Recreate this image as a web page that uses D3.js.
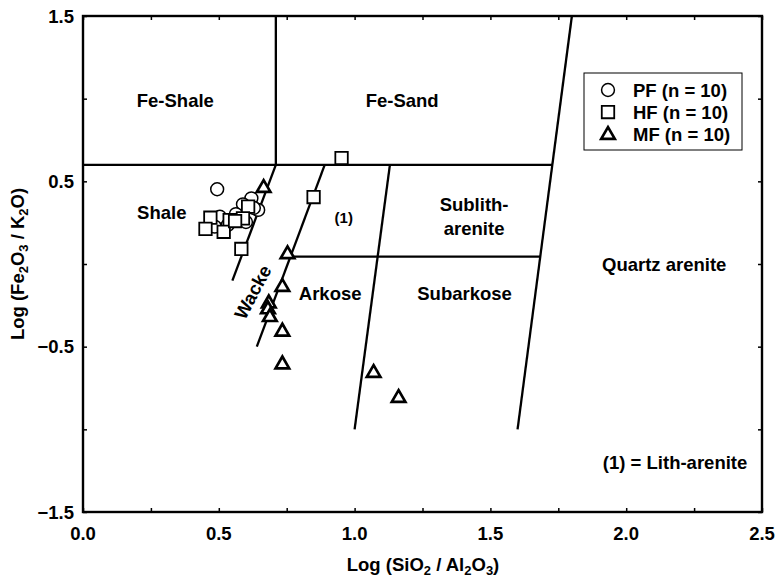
<!DOCTYPE html>
<html>
<head>
<meta charset="utf-8">
<script src="https://cdn.jsdelivr.net/npm/d3@7"></script>
<style>
  html, body { margin: 0; padding: 0; background: #fff; }
  svg { display: block; }
  text { font-family: "Liberation Sans", Arial, sans-serif; font-weight: bold; fill: #000; }
</style>
</head>
<body>
<svg id="chart" width="779" height="580"></svg>
<script>
// Sample groups: log(SiO2/Al2O3) and log(Fe2O3/K2O)
const pfX = [0.494, 0.620, 0.589, 0.645, 0.504, 0.485, 0.563, 0.600, 0.533, 0.629];
const pfY = [0.452, 0.397, 0.361, 0.327, 0.286, 0.226, 0.302, 0.254, 0.236, 0.339];

const hfX = [0.952, 0.849, 0.583, 0.608, 0.589, 0.540, 0.469, 0.451, 0.518, 0.560];
const hfY = [0.641, 0.405, 0.091, 0.347, 0.276, 0.266, 0.280, 0.212, 0.195, 0.260];

const mfX = [0.665, 0.753, 0.734, 0.684, 0.681, 0.688, 0.734, 0.734, 1.070, 1.162];
const mfY = [0.466, 0.065, -0.133, -0.232, -0.268, -0.315, -0.403, -0.601, -0.653, -0.804];

// Classification field boundaries (Herron 1988), as [x1, y1, x2, y2]
const boundaryX1 = [0.00, 0.71, 0.71, 0.89, 0.764, 1.13, 1.80];
const boundaryY1 = [0.60, 0.60, 0.60, 0.60, 0.045, 0.60, 1.50];
const boundaryX2 = [1.728, 0.71, 0.55, 0.64, 1.684, 1.00, 1.60];
const boundaryY2 = [0.60, 1.50, -0.10, -0.50, 0.045, -1.00, -1.00];

// Field names
const fieldNames = ["Fe-Shale", "Fe-Sand", "Shale", "(1)", "Arkose", "Subarkose", "Quartz arenite", "(1) = Lith-arenite"];
const fieldX = [0.34, 1.175, 0.29, 0.96, 0.91, 1.405, 2.14, 2.18];
const fieldY = [0.99, 0.99, 0.31, 0.29, -0.18, -0.18, 0.0, -1.20];

// Axis ticks
const xTickValues = [0, 0.25, 0.5, 0.75, 1.0, 1.25, 1.5, 1.75, 2.0, 2.25, 2.5];
const xTickLabels = [0, 0.5, 1.0, 1.5, 2.0, 2.5];
const yTickValues = [-1.5, -1.0, -0.5, 0, 0.5, 1.0, 1.5];
const yTickLabels = [-1.5, -0.5, 0.5, 1.5];

const legendNames = ["PF (n = 10)", "HF (n = 10)", "MF (n = 10)"];

const svg = d3.select("#chart");
const mLeft = 83, mRight = 762, mTop = 16, mBottom = 512;
const fs = 18.5, subFs = 13;

const x = d3.scaleLinear().domain([0, 2.5]).range([mLeft, mRight]);
const y = d3.scaleLinear().domain([-1.5, 1.5]).range([mBottom, mTop]);

// Inward ticks on all four sides
const tickLen = 4;
const axB = d3.axisBottom(x).tickValues(xTickValues).tickSize(-tickLen).tickFormat("");
const axT = d3.axisTop(x).tickValues(xTickValues).tickSize(-tickLen).tickFormat("");
const axL = d3.axisLeft(y).tickValues(yTickValues).tickSize(-tickLen).tickFormat("");
const axR = d3.axisRight(y).tickValues(yTickValues).tickSize(-tickLen).tickFormat("");

function styleAxis(g) {
  g.select(".domain").remove();
  g.selectAll(".tick line").attr("stroke", "#000").attr("stroke-width", 1.5);
}
svg.append("g").attr("transform", `translate(0,${mBottom})`).call(axB).call(styleAxis);
svg.append("g").attr("transform", `translate(0,${mTop})`).call(axT).call(styleAxis);
svg.append("g").attr("transform", `translate(${mLeft},0)`).call(axL).call(styleAxis);
svg.append("g").attr("transform", `translate(${mRight},0)`).call(axR).call(styleAxis);

// Frame
svg.append("rect")
  .attr("x", mLeft).attr("y", mTop)
  .attr("width", mRight - mLeft).attr("height", mBottom - mTop)
  .attr("fill", "none").attr("stroke", "#000").attr("stroke-width", 2.4);

// Tick labels
const fmt = d3.format(".1f");
svg.append("g").selectAll("text").data(xTickLabels).join("text")
  .attr("x", d => x(d)).attr("y", 540)
  .attr("text-anchor", "middle").attr("font-size", fs)
  .text(d => fmt(d));
svg.append("g").selectAll("text").data(yTickLabels).join("text")
  .attr("x", 74).attr("y", d => y(d) + 6.5)
  .attr("text-anchor", "end").attr("font-size", fs)
  .text(d => fmt(d));

// Axis titles
const xt = svg.append("text").attr("x", 423).attr("y", 571)
  .attr("text-anchor", "middle").attr("font-size", fs);
xt.append("tspan").text("Log (SiO");
xt.append("tspan").attr("font-size", subFs).attr("dy", 4).text("2");
xt.append("tspan").attr("dy", -4).text(" / Al");
xt.append("tspan").attr("font-size", subFs).attr("dy", 4).text("2");
xt.append("tspan").attr("dy", -4).text("O");
xt.append("tspan").attr("font-size", subFs).attr("dy", 4).text("3");
xt.append("tspan").attr("dy", -4).text(")");

const yt = svg.append("text")
  .attr("transform", `translate(24,${(mTop + mBottom) / 2}) rotate(-90)`)
  .attr("text-anchor", "middle").attr("font-size", fs);
yt.append("tspan").text("Log (Fe");
yt.append("tspan").attr("font-size", subFs).attr("dy", 4).text("2");
yt.append("tspan").attr("dy", -4).text("O");
yt.append("tspan").attr("font-size", subFs).attr("dy", 4).text("3");
yt.append("tspan").attr("dy", -4).text(" / K");
yt.append("tspan").attr("font-size", subFs).attr("dy", 4).text("2");
yt.append("tspan").attr("dy", -4).text("O)");

// Field boundaries
svg.append("g").selectAll("line").data(d3.range(boundaryX1.length)).join("line")
  .attr("x1", i => x(boundaryX1[i])).attr("y1", i => y(boundaryY1[i]))
  .attr("x2", i => x(boundaryX2[i])).attr("y2", i => y(boundaryY2[i]))
  .attr("stroke", "#000").attr("stroke-width", 2.3);

// Field labels
svg.append("g").selectAll("text").data(fieldNames).join("text")
  .attr("x", (d, i) => x(fieldX[i])).attr("y", (d, i) => y(fieldY[i]) + 6.5)
  .attr("text-anchor", "middle")
  .attr("font-size", d => d === "(1)" ? 15 : fs)
  .text(d => d);

// Two-line label for Sublitharenite
const sub = svg.append("text").attr("text-anchor", "middle").attr("font-size", fs);
sub.append("tspan").attr("x", x(1.44)).attr("y", y(0.36) + 6.5).text("Sublith-");
sub.append("tspan").attr("x", x(1.44)).attr("y", y(0.215) + 6.5).text("arenite");

// Rotated Wacke label
svg.append("text")
  .attr("transform", `translate(${x(0.625)},${y(-0.17)}) rotate(-62)`)
  .attr("text-anchor", "middle").attr("dy", 6.5).attr("font-size", fs)
  .text("Wacke");

// Symbols
const circle = d3.symbol().type(d3.symbolCircle).size(130);
const square = d3.symbol().type(d3.symbolSquare).size(155);
const triangle = d3.symbol().type(d3.symbolTriangle).size(80);

function plot(xs, ys, sym, sw, dyOff) {
  svg.append("g").selectAll("path").data(d3.range(xs.length)).join("path")
    .attr("transform", i => `translate(${x(xs[i])},${y(ys[i]) + dyOff})`)
    .attr("d", sym)
    .attr("fill", "#fff").attr("stroke", "#000").attr("stroke-width", sw);
}
plot(pfX, pfY, circle, 1.5, 0);
plot(hfX, hfY, square, 1.8, 0);
plot(mfX, mfY, triangle, 2.7, 1);

// Legend
const lg = svg.append("g");
lg.append("rect").attr("x", 584).attr("y", 73).attr("width", 158).attr("height", 77)
  .attr("fill", "#fff").attr("stroke", "#000").attr("stroke-width", 1);
const legendSyms = [circle, square, triangle];
const legendSw = [1.5, 1.8, 2.7];
legendNames.forEach((name, i) => {
  const cy = 90 + i * 22;
  lg.append("path").attr("transform", `translate(608,${cy + (i === 2 ? 1 : 0)})`)
    .attr("d", legendSyms[i]).attr("fill", "#fff").attr("stroke", "#000").attr("stroke-width", legendSw[i]);
  lg.append("text").attr("x", 633).attr("y", cy + 6.5).attr("font-size", fs).text(name);
});
</script>
</body>
</html>
